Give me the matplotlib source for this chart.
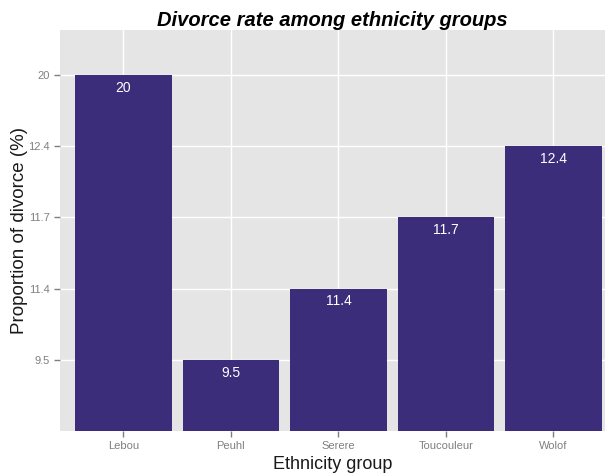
import matplotlib
matplotlib.use('Agg')
import matplotlib.pyplot as plt
import numpy as np

groups = ['Lebou', 'Peuhl', 'Serere', 'Toucouleur', 'Wolof']
rates = ['20', '9.5', '11.4', '11.7', '12.4']
# the y axis is discrete in the original: one level per distinct rate
levels = ['9.5', '11.4', '11.7', '12.4', '20']

plt.rcParams['font.family'] = ['Liberation Sans', 'DejaVu Sans']

fig = plt.figure(figsize=(6.05, 4.74), dpi=100)
ax = fig.add_axes([60 / 605, 43 / 474, 545 / 605, 401 / 474])
ax.set_facecolor('#e5e5e5')

x = np.arange(1, len(groups) + 1)
h = [levels.index(r) + 1 for r in rates]
ax.bar(x, h, width=0.9, color='#3b2d7a', zorder=3)
for xi, hi, r in zip(x, h, rates):
    ax.text(xi, hi - 0.18, r, color='white', ha='center', va='center', fontsize=10, zorder=4)

ax.set_xlim(0.41, 5.48)
ax.set_ylim(0, 5.63)
ax.set_xticks(x)
ax.set_xticklabels(groups)
ax.set_yticks(np.arange(1, len(levels) + 1))
ax.set_yticklabels(levels)
ax.grid(True, color='white', linewidth=1.0, zorder=1)
ax.set_axisbelow(True)
for s in ax.spines.values():
    s.set_visible(False)
ax.tick_params(colors='#7f7f7f', labelcolor='#7f7f7f', labelsize=8, length=4, width=1)

ax.set_xlabel('Ethnicity group', fontsize=13, color='#1a1a1a', labelpad=3)
ax.set_ylabel('Proportion of divorce (%)', fontsize=13.5, color='#1a1a1a', labelpad=0)
ax.set_title('Divorce rate among ethnicity groups', fontsize=14.5, fontweight='bold',
             fontstyle='italic', pad=3)

fig.savefig('out.png', dpi=100)
